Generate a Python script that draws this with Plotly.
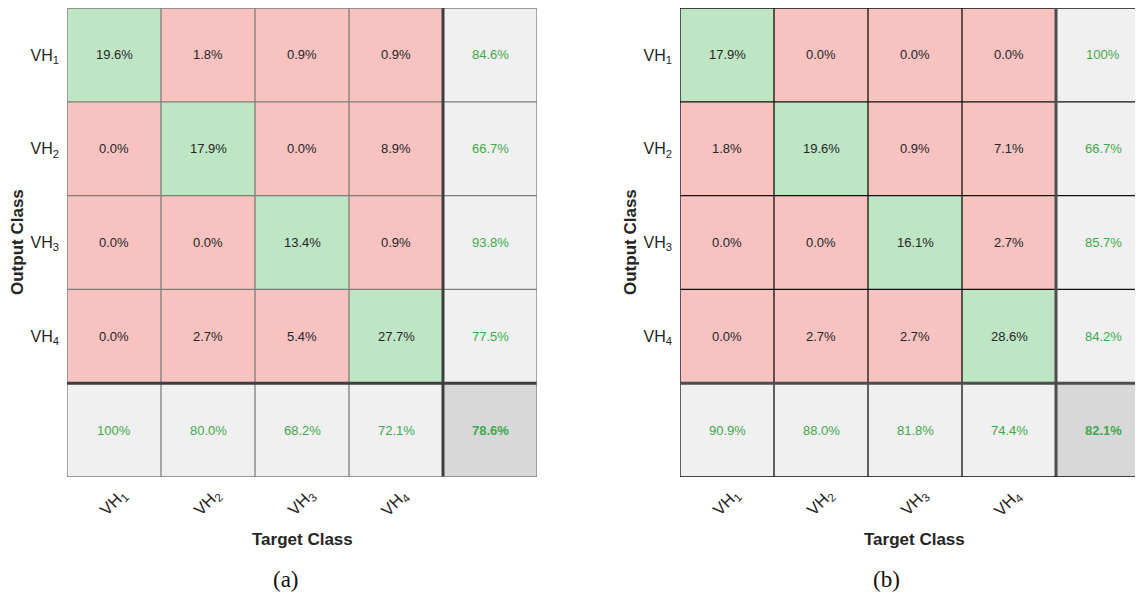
import plotly.graph_objects as go

# ---------------- data ----------------
classes = ["VH<sub>1</sub>", "VH<sub>2</sub>", "VH<sub>3</sub>", "VH<sub>4</sub>"]

# panel (a): rows = output class, cols = target class (percent of total)
cm_a = [
    [19.6, 1.8, 0.9, 0.9],
    [0.0, 17.9, 0.0, 8.9],
    [0.0, 0.0, 13.4, 0.9],
    [0.0, 2.7, 5.4, 27.7],
]
row_prec_a = [84.6, 66.7, 93.8, 77.5]
col_rec_a = [100.0, 80.0, 68.2, 72.1]
overall_a = 78.6

# panel (b)
cm_b = [
    [17.9, 0.0, 0.0, 0.0],
    [1.8, 19.6, 0.9, 7.1],
    [0.0, 0.0, 16.1, 2.7],
    [0.0, 2.7, 2.7, 28.6],
]
row_prec_b = [100.0, 66.7, 85.7, 84.2]
col_rec_b = [90.9, 88.0, 81.8, 74.4]
overall_b = 82.1

captions = ["(a)", "(b)"]

# ---------------- style ----------------
OFF = 8                      # page body margin in the browser
W, H = 1143 - OFF, 596 - OFF
RED = "#F7C2BF"
GREEN = "#BEE5C4"
LGRAY = "#F0F0F0"
DGRAY = "#D8D8D8"
TXT = "#262626"
GTXT = "#3DAA4A"
FONT = "Liberation Sans, Arial, Helvetica, sans-serif"

def fmt(v):
    return "100%" if v >= 99.95 else f"{v:.1f}%"

def px_x(p):
    return (p - OFF) / W

def px_y(p):
    return 1 - (p - OFF) / H

fig = go.Figure()

panels = [
    dict(cm=cm_a, rp=row_prec_a, cr=col_rec_a, ov=overall_a, xa="x", ya="y",
         left=67, xr=[0.5, 5.5], thin="#7d7d7d", thick="#3e3e3e", cap_x=286),
    dict(cm=cm_b, rp=row_prec_b, cr=col_rec_b, ov=overall_b, xa="x2", ya="y2",
         left=680, xr=[0.5, 0.5 + 5 * 463 / 470], thin="#111111", thick="#4d4d4d", cap_x=886),
]

annotations = []
shapes = []
n = len(classes)

def ann(**kw):
    d = dict(showarrow=False, xanchor="center", yanchor="middle")
    d.update(kw)
    annotations.append(d)

for pi, p in enumerate(panels):
    z = []
    for r in range(n + 1):
        row = []
        for c in range(n + 1):
            if r == n and c == n:
                row.append(3)
            elif r == n or c == n:
                row.append(2)
            elif r == c:
                row.append(1)
            else:
                row.append(0)
        z.append(row)
    xs = list(range(1, n + 2))
    ys = list(range(1, n + 2))
    fig.add_trace(go.Heatmap(
        z=z, x=xs, y=ys, xaxis=p["xa"], yaxis=p["ya"],
        zmin=0, zmax=3, showscale=False, hoverinfo="skip",
        colorscale=[[0, RED], [0.17, RED], [0.17, GREEN], [0.5, GREEN],
                    [0.5, LGRAY], [0.83, LGRAY], [0.83, DGRAY], [1, DGRAY]],
    ))
    # cell texts
    for r in range(n):
        for c in range(n):
            ann(x=c + 1, y=r + 1, xref=p["xa"], yref=p["ya"], text=fmt(p["cm"][r][c]),
                font=dict(size=13, color=TXT, family=FONT))
        ann(x=n + 1, y=r + 1, xref=p["xa"], yref=p["ya"], text=fmt(p["rp"][r]),
            font=dict(size=13, color=GTXT, family=FONT))
    for c in range(n):
        ann(x=c + 1, y=n + 1, xref=p["xa"], yref=p["ya"], text=fmt(p["cr"][c]),
            font=dict(size=13, color=GTXT, family=FONT))
    ann(x=n + 1, y=n + 1, xref=p["xa"], yref=p["ya"], text="<b>" + fmt(p["ov"]) + "</b>",
        font=dict(size=13, color=GTXT, family=FONT))
    # rotated x tick labels
    for c in range(n):
        ann(x=c + 1, y=px_y(503), xref=p["xa"], yref="paper", text=classes[c],
            textangle=-45, xshift=-1, font=dict(size=16.5, color=TXT, family=FONT))
    # grid lines
    for k in range(n + 2):
        v = k + 0.5
        thick = (k == n)
        lc = p["thick"] if thick else p["thin"]
        lw = 3 if thick else 1.3
        shapes.append(dict(type="line", xref=p["xa"], yref=p["ya"], x0=v, x1=v, y0=0.5, y1=n + 1.5,
                           line=dict(color=lc, width=lw)))
        shapes.append(dict(type="line", xref=p["xa"], yref=p["ya"], x0=0.5, x1=n + 1.5, y0=v, y1=v,
                           line=dict(color=lc, width=lw)))
    # axis titles and caption
    cx = p["left"] + 235
    ann(x=px_x(cx), y=px_y(539), xref="paper", yref="paper", text="<b>Target Class</b>",
        font=dict(size=17, color=TXT, family=FONT))
    ann(x=px_x(p["left"] - 50), y=px_y(242), xref="paper", yref="paper", text="<b>Output Class</b>",
        textangle=-90, font=dict(size=17, color=TXT, family=FONT))
    ann(x=px_x(p["cap_x"]), y=px_y(579), xref="paper", yref="paper", text=captions[pi],
        font=dict(size=23, color="#111111", family="Liberation Serif, DejaVu Serif, serif"))

ydom = [px_y(477), px_y(8)]
axis_common = dict(showgrid=False, zeroline=False, showline=False, ticks="")
ytick = dict(tickmode="array", tickvals=[1, 2, 3, 4], ticktext=classes, ticklabelstandoff=7,
             tickfont=dict(size=16, color=TXT, family=FONT))
fig.update_layout(
    width=W, height=H,
    margin=dict(l=0, r=0, t=0, b=0, autoexpand=False),
    paper_bgcolor="white", plot_bgcolor="white",
    showlegend=False,
    xaxis=dict(domain=[px_x(67), px_x(537)], range=panels[0]["xr"], showticklabels=False,
               anchor="y", **axis_common),
    yaxis=dict(domain=ydom, range=[5.5, 0.5], anchor="x", **ytick, **axis_common),
    xaxis2=dict(domain=[px_x(680), 1.0], range=panels[1]["xr"], showticklabels=False,
                anchor="y2", **axis_common),
    yaxis2=dict(domain=ydom, range=[5.5, 0.5], anchor="x2", **ytick, **axis_common),
    annotations=annotations,
    shapes=shapes,
)

fig.write_html("out.html")
